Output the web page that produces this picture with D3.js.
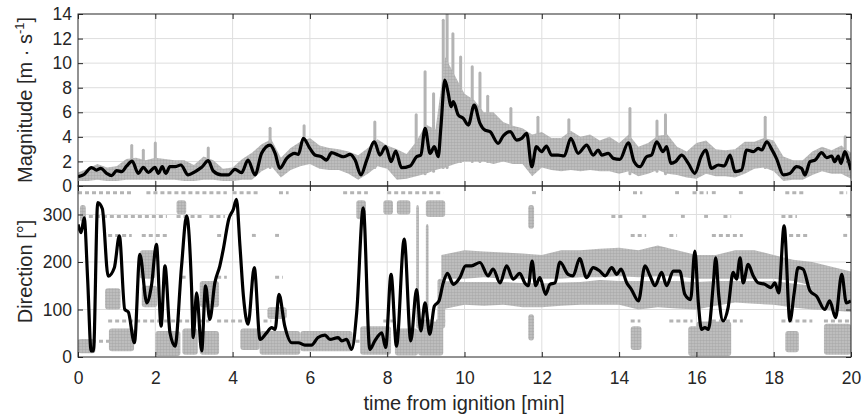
<!DOCTYPE html>
<html>
<head>
<meta charset="utf-8">
<script src="https://cdn.jsdelivr.net/npm/d3@7"></script>
<style>
  body { margin: 0; background: #fff; }
  svg { display: block; font-family: "Liberation Sans", Arial, sans-serif; }
</style>
</head>
<body>
<svg width="863" height="418"></svg>
<script>
// time [min], smoothed magnitude [m/s]
const magnitudeLine = [
  [0,0.76],[0.14,0.9],[0.35,1.5],[0.48,1.3],[0.59,1.44],[0.74,1.03],[0.87,0.84],[1.0,1.25],[1.13,1.17],[1.26,1.63],
  [1.4,2.03],[1.56,1.03],[1.69,1.52],[1.82,1.1],[1.99,1.52],[2.08,1.03],[2.18,1.57],[2.27,1.03],[2.38,1.57],[2.51,1.57],
  [2.66,1.71],[2.85,0.9],[3.03,1.17],[3.2,1.52],[3.37,2.06],[3.5,1.22],[3.71,0.9],[3.89,0.9],[4.06,1.36],[4.23,1.08],
  [4.4,2.11],[4.58,0.9],[4.75,2.66],[4.97,3.33],[5.1,2.66],[5.22,1.44],[5.4,2.25],[5.61,2.66],[5.7,2.57],[5.83,3.88],
  [6.0,3.06],[6.13,2.52],[6.3,2.38],[6.43,2.11],[6.56,2.71],[6.73,2.52],[6.87,2.38],[7.04,2.57],[7.17,2.11],[7.32,0.9],
  [7.47,2.11],[7.67,3.6],[7.81,2.52],[7.96,3.2],[8.1,1.98],[8.22,2.85],[8.37,1.49],[8.59,1.63],[8.76,2.38],[8.87,2.52],
  [8.98,4.69],[9.11,2.66],[9.22,3.2],[9.32,2.38],[9.39,4.82],[9.49,8.62],[9.58,7.53],[9.65,6.45],[9.71,6.86],[9.84,5.77],
  [9.97,5.5],[10.1,4.96],[10.25,6.59],[10.4,5.1],[10.53,4.55],[10.66,4.42],[10.87,3.47],[11.0,4.07],[11.18,4.42],[11.35,3.74],
  [11.48,3.88],[11.61,4.28],[11.74,1.57],[11.86,3.2],[11.99,2.79],[12.12,3.25],[12.25,2.52],[12.42,2.52],[12.58,2.44],[12.75,3.88],
  [12.94,2.66],[13.16,3.33],[13.33,2.52],[13.46,2.93],[13.55,2.52],[13.72,2.66],[13.85,2.25],[14.02,2.17],[14.24,3.52],[14.39,1.98],
  [14.54,1.57],[14.71,2.38],[14.84,2.52],[14.97,3.6],[15.14,2.79],[15.23,3.2],[15.34,1.84],[15.46,1.98],[15.62,2.52],[15.79,1.84],
  [15.96,1.03],[16.12,2.38],[16.24,2.93],[16.39,1.44],[16.57,1.71],[16.72,1.63],[16.87,2.52],[17.0,1.17],[17.17,1.3],[17.3,2.93],
  [17.47,2.79],[17.6,3.06],[17.69,2.93],[17.82,3.6],[17.95,2.98],[18.07,2.25],[18.25,0.9],[18.42,1.03],[18.59,1.57],[18.72,1.44],
  [18.81,0.9],[18.94,1.98],[19.07,2.11],[19.24,2.71],[19.37,2.3],[19.5,2.44],[19.58,1.98],[19.67,2.44],[19.74,1.84],[19.84,2.79],
  [19.93,2.11],[20.0,1.3]
];

// time [min], smoothed direction [deg]
const directionLine = [
  [0,279],[0.08,262],[0.16,293],[0.25,163],[0.34,13],[0.4,13],[0.51,325],[0.63,312],[0.78,170],[0.94,188],
  [1.07,255],[1.21,100],[1.3,95],[1.46,30],[1.6,216],[1.78,114],[1.9,150],[2.03,237],[2.15,65],[2.25,192],
  [2.38,51],[2.51,23],[2.68,192],[2.81,297],[2.94,142],[2.98,41],[3.07,135],[3.2,13],[3.3,150],[3.41,79],
  [3.54,156],[3.67,192],[3.76,227],[3.9,290],[4.02,311],[4.1,332],[4.19,234],[4.28,128],[4.4,69],[4.56,188],
  [4.71,37],[4.88,51],[5.01,62],[5.1,58],[5.2,132],[5.35,65],[5.53,30],[5.7,30],[5.87,25],[6.04,25],
  [6.21,41],[6.39,46],[6.52,37],[6.73,41],[6.82,34],[6.95,37],[7.08,16],[7.21,93],[7.38,314],[7.55,16],
  [7.68,34],[7.86,51],[7.96,20],[8.1,174],[8.24,23],[8.44,248],[8.61,34],[8.76,142],[8.87,55],[8.98,114],
  [9.1,48],[9.22,107],[9.34,118],[9.45,156],[9.56,176],[9.71,153],[9.88,167],[10.03,192],[10.18,192],[10.4,199],
  [10.61,171],[10.74,185],[10.92,156],[11.09,192],[11.26,164],[11.43,176],[11.56,156],[11.65,150],[11.75,202],[11.84,150],
  [11.95,167],[12.1,132],[12.21,153],[12.34,156],[12.47,200],[12.68,174],[12.81,171],[12.98,207],[13.16,167],[13.33,188],
  [13.5,181],[13.64,171],[13.81,188],[13.94,174],[14.05,185],[14.2,156],[14.32,142],[14.5,118],[14.67,192],[14.8,171],
  [14.93,150],[15.1,178],[15.23,150],[15.4,181],[15.57,181],[15.7,132],[15.85,121],[15.96,223],[16.05,114],[16.13,58],
  [16.22,62],[16.31,58],[16.44,156],[16.5,209],[16.58,128],[16.69,76],[16.82,104],[16.95,178],[17.04,164],[17.13,209],
  [17.21,156],[17.34,195],[17.47,171],[17.6,156],[17.77,153],[17.93,146],[18.03,156],[18.13,135],[18.27,276],[18.42,76],
  [18.53,135],[18.63,188],[18.76,185],[18.94,139],[19.11,128],[19.32,100],[19.45,118],[19.6,83],[19.76,174],[19.88,114],
  [20.0,118]
];

// raw magnitude samples: spread per quarter minute [t, low, high]
const magnitudeSpread = [
  [0,0.4,1.1],[0.25,0.4,1.4],[0.5,0.5,1.8],[0.75,0.4,1.5],[1.0,0.4,1.6],[1.25,0.5,2.2],[1.5,0.5,2.3],[1.75,0.5,2.1],
  [2.0,0.5,2.3],[2.25,0.5,2.2],[2.5,0.5,2.1],[2.75,0.4,2.1],[3.0,0.4,1.7],[3.25,0.5,2.4],[3.5,0.5,2.1],[3.75,0.4,1.4],
  [4.0,0.4,1.5],[4.25,0.5,2.2],[4.5,0.5,2.7],[4.75,1.2,3.4],[5.0,1.6,3.8],[5.25,0.7,2.3],[5.5,1.3,3.1],[5.75,1.6,3.6],
  [6.0,1.8,3.9],[6.25,1.4,3.3],[6.5,1.3,3.1],[6.75,1.3,3.0],[7.0,1.0,2.8],[7.25,0.5,2.5],[7.5,1.0,3.1],[7.75,1.6,3.8],
  [8.0,1.4,3.3],[8.25,0.5,3.0],[8.5,0.6,2.6],[8.75,0.8,3.6],[9.0,1.0,5.0],[9.25,1.3,4.6],[9.5,1.5,10.5],[9.75,1.8,9.0],
  [10.0,2.0,7.5],[10.25,2.0,7.0],[10.5,2.0,6.0],[10.75,1.8,6.0],[11.0,2.0,5.2],[11.25,1.8,4.9],[11.5,1.8,4.7],[11.75,0.8,4.2],
  [12.0,1.5,4.4],[12.25,1.3,3.9],[12.5,1.2,3.9],[12.75,1.3,4.5],[13.0,1.2,4.0],[13.25,1.3,4.2],[13.5,1.2,3.7],[13.75,1.2,4.0],
  [14.0,1.0,3.5],[14.25,1.2,4.2],[14.5,0.8,3.2],[14.75,1.0,3.5],[15.0,1.3,4.1],[15.25,1.0,4.2],[15.5,0.9,3.2],[15.75,0.7,2.8],
  [16.0,0.6,3.5],[16.25,1.0,3.7],[16.5,0.8,3.0],[16.75,0.8,2.9],[17.0,0.7,3.0],[17.25,1.0,3.6],[17.5,1.4,3.6],[17.75,1.5,3.9],
  [18.0,1.2,3.7],[18.25,0.4,2.4],[18.5,0.5,2.1],[18.75,0.5,2.1],[19.0,0.9,2.8],[19.25,1.2,3.2],[19.5,1.0,2.9],[19.75,1.0,3.3],
  [20.0,0.6,2.7]
];

// tall bursts of magnitude samples [t, low, high]
const magnitudeBursts = [
  [1.39,0.8,3.3],[1.69,0.7,2.9],[2.0,0.7,3.5],[3.37,0.9,3.1],[4.97,1.5,4.7],[5.85,2.0,4.9],[7.68,1.5,5.2],
  [8.75,1.0,5.8],[8.98,1.0,9.3],[9.2,1.2,7.5],[9.45,1.5,13.5],[9.55,1.5,14.0],[9.7,2.0,12.4],[9.9,2.0,10.5],
  [10.2,2.0,9.7],[10.4,2.0,9.2],[10.6,2.0,7.3],[11.2,2.0,6.3],[11.9,2.0,5.6],[12.7,1.5,5.4],[14.28,1.0,6.3],
  [14.98,1.2,5.3],[15.2,1.0,5.8],[17.78,1.5,5.6],[19.85,1.0,4.0]
];

// raw direction samples after 9.4 min: two steady bands [t, low, high]
const directionUpperBand = [
  [9.4,165,215],[10,165,225],[10.5,168,222],[11,165,220],[11.5,165,218],[12,165,215],[12.5,165,225],[13,168,225],
  [13.5,168,228],[14,170,230],[14.5,168,225],[15,170,235],[15.5,170,225],[16,165,215],[16.5,165,215],[17,165,225],
  [17.5,165,225],[18,165,215],[18.5,160,205],[19,150,200],[19.5,145,190],[20,140,180]
];
const directionLowerBand = [
  [9.4,100,160],[10,110,158],[10.5,108,158],[11,110,158],[11.5,105,156],[12,105,155],[12.5,108,157],[13,110,158],
  [13.5,110,162],[14,110,160],[14.5,100,160],[15,105,160],[15.5,102,160],[16,100,158],[16.5,108,160],[17,115,160],
  [17.5,112,160],[18,110,160],[18.5,104,155],[19,100,150],[19.5,98,148],[20,95,145]
];

// raw direction samples: other dense clouds [t0, t1, low, high]
const directionClouds = [
  [0.0,0.45,8,38],[0.05,0.2,285,320],[0.7,1.1,100,145],[0.8,1.45,12,60],[1.6,2.0,165,225],[1.65,2.05,105,150],
  [2.0,2.65,2,55],[2.55,2.8,300,330],[2.7,3.1,5,60],[3.15,3.65,105,160],[3.15,3.65,5,55],[4.2,4.7,15,60],
  [4.9,5.4,80,105],[4.7,5.75,5,55],[5.75,7.1,12,55],[7.2,7.45,290,330],[7.3,8.1,5,65],[7.9,8.15,300,330],
  [8.25,8.6,300,330],[8.2,8.8,3,60],[8.8,9.45,3,75],[9.0,9.5,295,330],[8.75,8.82,60,320],[9.0,9.07,100,280],
  [9.3,9.5,60,165],[14.3,14.58,15,65],[15.79,16.3,2,65],[16.0,16.9,2,75],[18.3,18.65,10,55],
  [19.3,20.0,5,70],[11.65,11.8,270,320],[11.65,11.8,35,90]
];

// raw direction samples: recurring quantised levels [deg] and the stretches they show up in
const directionLevels = [346, 296, 256, 168, 76, 33];
const directionLevelSpans = [
  [[0,1.4],[1.77,3.85],[4.0,4.7],[5.2,5.45],[6.86,7.5],[8.0,9.45],[11.75,11.85],[14.36,14.6],[15.45,15.55],[15.9,16.3],[16.4,16.5],[17.1,17.2],[18.3,18.8],[19.7,19.9]],
  [[0.1,2.3],[2.55,3.2],[3.4,3.8],[13.8,14.1],[14.6,14.7],[15.6,15.7],[16.2,16.3],[16.7,16.9],[18.2,18.6],[19.9,20]],
  [[0.78,1.39],[1.65,2.33],[3.6,3.8],[4.5,4.6],[5.1,5.2],[14.3,14.7],[15.3,15.5],[16.4,17.2],[18.4,18.9],[19.8,19.9]],
  [[2.68,2.8],[3.6,3.85],[5.1,5.3],[18.9,19.5]],
  [[0.78,3.4],[3.6,4.3],[4.8,5.0],[7.9,8.2],[8.9,9.5],[14.3,14.55],[15.3,15.9],[16.4,17.2],[18.2,19.0],[19.3,20]],
  [[0,1.3],[5.7,6.1],[7.0,7.3]]
];

const xTicks = d3.range(0, 21, 2);
const magTicks = d3.range(0, 15, 2);
const dirTicks = [0, 100, 200, 300];

const svg = d3.select("svg");
const left = 78, right = 851;
const magTop = 14, magBottom = 186, dirTop = 186, dirBottom = 357;
const ink = "#262626", grey = "#b4b4b4", gridColor = "#dedede";

const x = d3.scaleLinear().domain([0, 20]).range([left, right]);
const yMag = d3.scaleLinear().domain([0, 14]).range([magBottom, magTop]);
const yDir = d3.scaleLinear().domain([0, 360]).range([dirBottom, dirTop]);

const defs = svg.append("defs");
defs.append("clipPath").attr("id", "clipMag").append("rect")
  .attr("x", left).attr("y", magTop).attr("width", right - left).attr("height", magBottom - magTop);
defs.append("clipPath").attr("id", "clipDir").append("rect")
  .attr("x", left).attr("y", dirTop).attr("width", right - left).attr("height", dirBottom - dirTop);
// speckled fill so the sample clouds read as dots
const speck = defs.append("pattern").attr("id", "speck")
  .attr("width", 3).attr("height", 3).attr("patternUnits", "userSpaceOnUse");
speck.append("rect").attr("width", 3).attr("height", 3).attr("fill", "#c4c4c4");
speck.append("circle").attr("cx", 1.5).attr("cy", 1.5).attr("r", 1.25).attr("fill", "#acacac");

function grid(y, ticks, top, bottom) {
  const g = svg.append("g").attr("stroke", gridColor).attr("stroke-width", 1);
  g.selectAll(".vx").data(xTicks.slice(1, -1)).enter().append("line")
    .attr("x1", d => x(d)).attr("x2", d => x(d)).attr("y1", top).attr("y2", bottom);
  g.selectAll(".hy").data(ticks.filter(t => y(t) > top + 1 && y(t) < bottom - 1)).enter().append("line")
    .attr("x1", left).attr("x2", right).attr("y1", d => y(d)).attr("y2", d => y(d));
}
grid(yMag, magTicks, magTop, magBottom);
grid(yDir, dirTicks, dirTop, dirBottom);

// ---- magnitude panel
const mag = svg.append("g").attr("clip-path", "url(#clipMag)");
mag.selectAll(".burst").data(magnitudeBursts).enter().append("line")
  .attr("x1", d => x(d[0])).attr("x2", d => x(d[0]))
  .attr("y1", d => yMag(d[1])).attr("y2", d => yMag(d[2]))
  .attr("stroke", grey).attr("stroke-width", 3).attr("stroke-linecap", "round");
mag.append("path").datum(magnitudeSpread)
  .attr("fill", "url(#speck)")
  .attr("d", d3.area().x(d => x(d[0])).y0(d => yMag(d[1])).y1(d => yMag(d[2])));
mag.append("path").datum(magnitudeLine)
  .attr("fill", "none").attr("stroke", "#000").attr("stroke-width", 3.2).attr("stroke-linejoin", "round")
  .attr("d", d3.line().x(d => x(d[0])).y(d => yMag(d[1])).curve(d3.curveMonotoneX));

// ---- direction panel
const dir = svg.append("g").attr("clip-path", "url(#clipDir)");
directionLevels.forEach((level, i) => {
  dir.selectAll(".lvl" + i).data(directionLevelSpans[i]).enter().append("line")
    .attr("x1", d => x(d[0])).attr("x2", d => x(d[1]))
    .attr("y1", yDir(level)).attr("y2", yDir(level))
    .attr("stroke", grey).attr("stroke-width", 3).attr("stroke-dasharray", "4,3");
});
const bandArea = d3.area().x(d => x(d[0])).y0(d => yDir(d[1])).y1(d => yDir(d[2]));
[directionUpperBand, directionLowerBand].forEach(band => {
  dir.append("path").datum(band).attr("fill", "url(#speck)").attr("d", bandArea);
});
dir.selectAll(".cloud").data(directionClouds).enter().append("rect")
  .attr("x", d => x(d[0])).attr("width", d => x(d[1]) - x(d[0]))
  .attr("y", d => yDir(d[3])).attr("height", d => yDir(d[2]) - yDir(d[3]))
  .attr("rx", 3).attr("fill", "url(#speck)");
dir.append("path").datum(directionLine)
  .attr("fill", "none").attr("stroke", "#000").attr("stroke-width", 3.2).attr("stroke-linejoin", "round")
  .attr("d", d3.line().x(d => x(d[0])).y(d => yDir(d[1])).curve(d3.curveMonotoneX));

// ---- axes (MATLAB style box, inward ticks)
function box(y, ticks, top, bottom, showX) {
  const tl = 5;
  const la = svg.append("g").attr("transform", `translate(${left},0)`)
    .call(d3.axisLeft(y).tickValues(ticks).tickSize(-tl).tickPadding(6));
  const ra = svg.append("g").attr("transform", `translate(${right},0)`)
    .call(d3.axisRight(y).tickValues(ticks).tickSize(-tl).tickFormat(""));
  const ta = svg.append("g").attr("transform", `translate(0,${top})`)
    .call(d3.axisTop(x).tickValues(xTicks).tickSize(-tl).tickFormat(""));
  const ba = svg.append("g").attr("transform", `translate(0,${bottom})`)
    .call(d3.axisBottom(x).tickValues(xTicks).tickSize(-tl).tickPadding(15).tickFormat(showX ? d3.format("d") : ""));
  [la, ra, ta, ba].forEach(a => {
    a.select(".domain").remove();
    a.selectAll("line").attr("stroke", ink);
    a.selectAll("text").attr("fill", ink).attr("font-size", 17.5).attr("font-family", "Liberation Sans, Arial, sans-serif");
  });
  svg.append("rect").attr("x", left).attr("y", top).attr("width", right - left).attr("height", bottom - top)
    .attr("fill", "none").attr("stroke", ink).attr("stroke-width", 1);
}
box(yMag, magTicks, magTop, magBottom, false);
box(yDir, dirTicks, dirTop, dirBottom, true);

// ---- labels
const magLabel = svg.append("text")
  .attr("transform", `translate(32,${(magTop + magBottom) / 2}) rotate(-90)`)
  .attr("text-anchor", "middle").attr("font-size", 20).attr("fill", ink);
magLabel.append("tspan").text("Magnitude [m · s");
magLabel.append("tspan").attr("font-size", 13).attr("dy", -8).text("-1");
magLabel.append("tspan").attr("dy", 8).text("]");

svg.append("text")
  .attr("transform", `translate(32,${(dirTop + dirBottom) / 2}) rotate(-90)`)
  .attr("text-anchor", "middle").attr("font-size", 20).attr("fill", ink)
  .text("Direction [°]");

svg.append("text")
  .attr("x", 464).attr("y", 410)
  .attr("text-anchor", "middle").attr("font-size", 20).attr("fill", ink)
  .text("time from ignition [min]");
</script>
</body>
</html>
